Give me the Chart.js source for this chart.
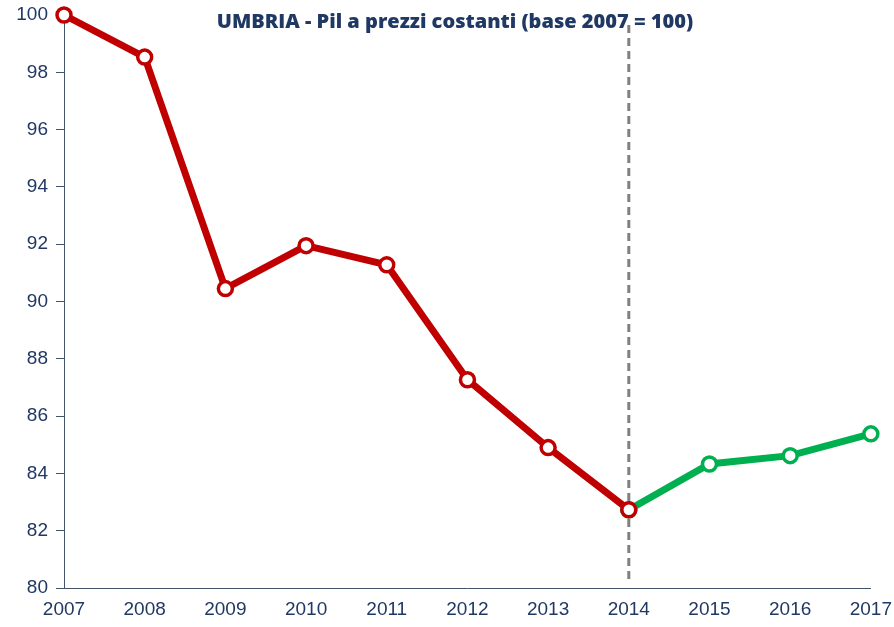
<!DOCTYPE html>
<html lang="it">
<head>
  <meta charset="UTF-8">
  <title>UMBRIA - Pil a prezzi costanti</title>
  <script src="https://cdn.jsdelivr.net/npm/chart.js@4.4.1/dist/chart.umd.min.js"></script>
  <style>
    html, body { margin: 0; padding: 0; background: #fff; }
    #wrap { width: 894px; height: 627px; }
  </style>
</head>
<body>
<div id="wrap"><canvas id="pilChart"></canvas></div>
<script>
  const years = ['2007', '2008', '2009', '2010', '2011', '2012', '2013', '2014', '2015', '2016', '2017'];
  // valori storici (rosso) e previsioni (verde)
  const pilStorico = [100, 98.53, 90.45, 91.95, 91.28, 87.27, 84.9, 82.73, null, null, null];
  const pilPrevisto = [null, null, null, null, null, null, null, 82.73, 84.33, 84.62, 85.38];
  const yTicks = [80, 82, 84, 86, 88, 90, 92, 94, 96, 98, 100];
  const titleText = 'UMBRIA - Pil a prezzi costanti (base 2007 = 100)';
  const splitYear = '2014';

  const axisColor = '#44546A';
  const labelColor = '#1F3864';
  const tickFont = { family: "'Liberation Sans Narrow', 'Liberation Sans', Arial", size: 19 };

  const overlay = {
    id: 'overlay',
    beforeDatasetsDraw(chart) {
      const { ctx, scales } = chart;
      const x = scales.x.getPixelForValue(years.indexOf(splitYear));
      ctx.save();
      ctx.strokeStyle = '#808080';
      ctx.lineWidth = 3;
      ctx.setLineDash([8, 5]);
      ctx.beginPath();
      ctx.moveTo(x, 25);
      ctx.lineTo(x, 582);
      ctx.stroke();
      ctx.restore();
    },
    afterDraw(chart) {
      const { ctx } = chart;
      ctx.save();
      ctx.fillStyle = labelColor;
      ctx.font = "800 20px 'Open Sans', 'DejaVu Sans', sans-serif";
      ctx.textAlign = 'center';
      ctx.textBaseline = 'middle';
      ctx.fillText(titleText, 455, 22);
      ctx.restore();
    }
  };

  const pointStyle = (color) => ({
    borderColor: color,
    backgroundColor: color,
    borderWidth: 7,
    pointRadius: 7,
    pointBorderWidth: 3.5,
    pointBackgroundColor: '#FFFFFF',
    pointBorderColor: color,
    pointHoverRadius: 7,
    tension: 0,
    spanGaps: false,
    clip: false
  });

  new Chart(document.getElementById('pilChart'), {
    type: 'line',
    data: {
      labels: years,
      datasets: [
        Object.assign({ label: 'Pil', data: pilStorico, order: 1 }, pointStyle('#C00000')),
        Object.assign({ label: 'Previsione', data: pilPrevisto, order: 2 }, pointStyle('#00B050'))
      ]
    },
    options: {
      responsive: true,
      maintainAspectRatio: false,
      animation: false,
      layout: { padding: { top: 15, right: 19, left: 0, bottom: 0 } },
      plugins: {
        legend: { display: false },
        tooltip: { enabled: false }
      },
      scales: {
        x: {
          offset: false,
          grid: { display: false, drawOnChartArea: false, drawTicks: true, tickLength: 8, tickColor: axisColor },
          border: { color: axisColor, width: 1 },
          ticks: { color: labelColor, font: tickFont, padding: 2, maxRotation: 0, autoSkip: false },
          afterFit(scale) { scale.height = 39; }
        },
        y: {
          min: 80,
          max: 100,
          afterBuildTicks(scale) { scale.ticks = yTicks.map(v => ({ value: v })); },
          grid: { display: true, drawOnChartArea: false, drawTicks: true, tickLength: 8, tickColor: axisColor },
          border: { color: axisColor, width: 1 },
          ticks: { color: labelColor, font: tickFont, padding: 8 },
          afterFit(scale) { scale.width = 64; scale.paddingTop = 0; scale.paddingBottom = 0; }
        }
      }
    },
    plugins: [overlay]
  });
</script>
</body>
</html>
